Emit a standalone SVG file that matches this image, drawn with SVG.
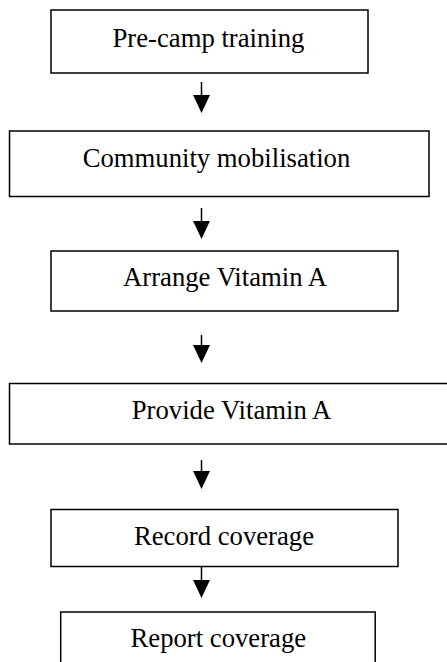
<svg xmlns="http://www.w3.org/2000/svg" width="447" height="662" viewBox="0 0 447 662">
<defs>
<style>
.box{fill:#fff;stroke:#000;stroke-width:1.5}
.lbl{font-family:"Liberation Serif","Times New Roman",serif;font-size:26.7px;fill:#000;text-anchor:middle}
.edge{stroke:#000;stroke-width:1.5;fill:none;marker-end:url(#ah)}
</style>
<marker id="ah" markerUnits="userSpaceOnUse" markerWidth="18" markerHeight="18" viewBox="0 0 17 16" refX="0" refY="8" orient="auto">
<path d="M0,0 L17,8 L0,16 Z" fill="#000"/>
</marker>
</defs>
<rect width="447" height="662" fill="#fff"/>
<g id="connectors">
<path class="edge" d="M201.5,82 V95"/>
<path class="edge" d="M201.5,208 V221"/>
<path class="edge" d="M201.5,335 V345"/>
<path class="edge" d="M201.5,460 V471"/>
<path class="edge" d="M201.5,567 V580"/>
</g>
<g id="n1"><rect class="box" x="51" y="10" width="317" height="63"/><text class="lbl" x="208.5" y="47">Pre-camp training</text></g>
<g id="n2"><rect class="box" x="9.5" y="131" width="419.5" height="65.5"/><text class="lbl" x="216.5" y="166.5">Community mobilisation</text></g>
<g id="n3"><rect class="box" x="51" y="251" width="347" height="60"/><text class="lbl" x="225" y="286">Arrange Vitamin A</text></g>
<g id="n4"><rect class="box" x="9.5" y="383.5" width="450" height="60.5"/><text class="lbl" x="231.5" y="419">Provide Vitamin A</text></g>
<g id="n5"><rect class="box" x="51" y="509.5" width="347" height="57"/><text class="lbl" x="224" y="545">Record coverage</text></g>
<g id="n6"><rect class="box" x="60.7" y="612" width="314.5" height="60"/><text class="lbl" x="218.3" y="647">Report coverage</text></g>
</svg>
